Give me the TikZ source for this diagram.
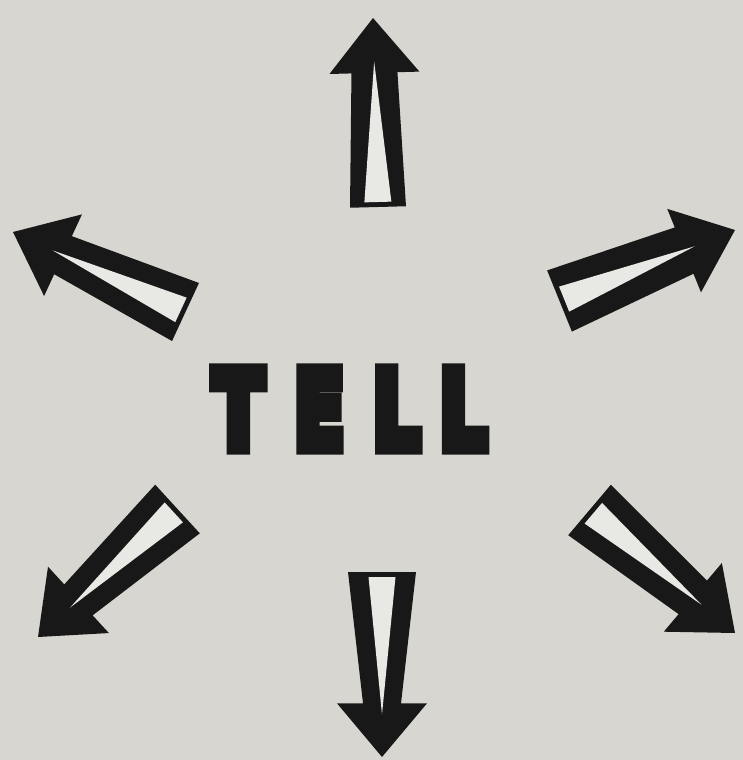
\documentclass[tikz,border=0pt]{standalone}
\usepackage{fontspec}
\usepackage{graphicx}
\usetikzlibrary{calc}
\newfontfamily\tellfont{DejaVu Sans}[BoldFeatures={FakeBold=13}]
\definecolor{paper}{RGB}{215,214,209}
\definecolor{ink}{RGB}{24,24,24}
\definecolor{slot}{RGB}{232,232,228}

\begin{document}
\begin{tikzpicture}[x=1pt,y=-1pt,
    word/.style={inner sep=0pt,text=ink,font=\tellfont\bfseries\fontsize{106}{106}\selectfont}]
  \fill[paper] (0,0) rectangle (743,760);
  \useasboundingbox (0,0) rectangle (743,760);
  % the word in the middle
  \node[word] (tell) at (350,409) {\scalebox{0.69}[1]{T\kern45pt E\kern42pt L\kern29pt L}};
  % six hollow arrows: base x/y, tip x/y, half width at base, half width at neck
  \foreach \bx/\by/\tx/\ty/\hb/\hn in {378/207/373/18/28pt/23pt,
                                      559.5/301/735/230/33pt/25pt,
                                      589.5/510/735/633/33pt/22pt,
                                      382/572/382/757/34pt/19pt,
                                      177.5/509/38/637/33pt/21pt,
                                      185.5/312/13/232/32pt/21pt}{
    \coordinate (b) at (\bx,\by);
    \coordinate (t) at (\tx,\ty);
    \coordinate (n) at ($(b)!0.71!(t)$);
    \coordinate (i) at ($(b)!5pt!(t)$);
    \fill[ink] ($(b)!\hb!90:(t)$) -- ($(n)!\hn!90:(t)$) -- ($(n)!45pt!90:(t)$) -- (t)
      -- ($(n)!45pt!-90:(t)$) -- ($(n)!\hn!-90:(t)$) -- ($(b)!\hb!-90:(t)$) -- cycle;
    \fill[slot] ($(i)!13.5pt!90:(t)$) -- ($(b)!0.77!(t)$) -- ($(i)!13.5pt!-90:(t)$) -- cycle;
  }
\end{tikzpicture}
\end{document}
